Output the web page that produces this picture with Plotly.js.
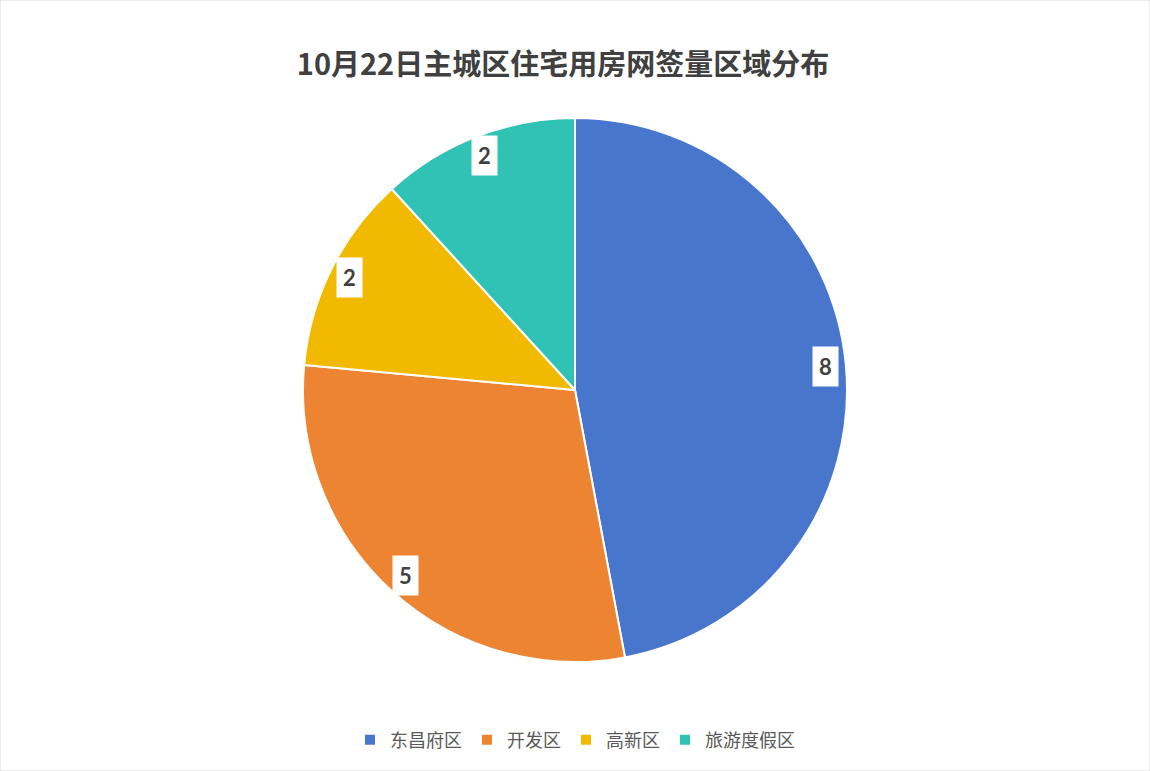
<!DOCTYPE html>
<html>
<head>
<meta charset="utf-8">
<script src="https://cdn.plot.ly/plotly-3.0.1.min.js"></script>
<style>
  html, body { margin: 0; padding: 0; background: #fff; }
  #chart { width: 1150px; height: 771px; }
</style>
</head>
<body>
<div id="chart"></div>
<script>
// 区域与网签量
const districts = ['东昌府区', '开发区', '高新区', '旅游度假区'];
const counts = [8, 5, 2, 2];
const sliceColors = ['#4876CD', '#ED8432', '#F1BA00', '#31C2B6'];

const W = 1150, H = 771;
const margin = { l: 0, r: 0, t: 118, b: 109 };
const plotW = W - margin.l - margin.r;
const plotH = H - margin.t - margin.b;
const radius = Math.min(plotW, plotH) / 2;

// 数据标签：放在扇区中线靠外侧，白底
const total = counts.reduce((a, b) => a + b, 0);
let cum = 0;
const labelAnnotations = counts.map(v => {
    const mid = (cum + v / 2) / total * 2 * Math.PI;
    cum += v;
    return {
        xref: 'paper', yref: 'paper',
        x: 0.5 + 0.925 * radius * Math.sin(mid) / plotW,
        y: 0.5 + 0.925 * radius * Math.cos(mid) / plotH,
        xanchor: 'center', yanchor: 'middle',
        text: String(v),
        showarrow: false,
        bgcolor: '#ffffff',
        borderpad: 6,
        font: { family: 'Lato, "Noto Sans", sans-serif', size: 22, color: '#404040', weight: 'bold' }
    };
});

const data = [{
    type: 'pie',
    labels: districts,
    values: counts,
    sort: false,
    direction: 'clockwise',
    rotation: 0,
    textinfo: 'none',
    hoverinfo: 'label+value',
    marker: { colors: sliceColors, line: { color: '#ffffff', width: 2 } }
}];

const layout = {
    width: W,
    height: H,
    margin: margin,
    paper_bgcolor: '#ffffff',
    title: {
        text: '<b>10月22日主城区住宅用房网签量区域分布</b>',
        font: { family: '"Noto Sans CJK SC", sans-serif', size: 29, color: '#404040' },
        x: 563 / W, xref: 'paper', xanchor: 'center',
        y: 1 - 65 / H, yref: 'container', yanchor: 'middle'
    },
    showlegend: true,
    legend: {
        orientation: 'h',
        x: 0.5, xanchor: 'center',
        y: -78 / plotH, yanchor: 'middle',
        font: { family: '"Noto Sans CJK SC", sans-serif', size: 18, color: '#595959' },
        itemwidth: 30,
        traceorder: 'normal'
    },
    annotations: labelAnnotations,
    shapes: [{
        type: 'rect', xref: 'paper', yref: 'paper',
        x0: 0, x1: 1, y0: -margin.b / plotH, y1: 1 + margin.t / plotH,
        line: { color: '#d9d9d9', width: 1 }
    }]
};

Plotly.newPlot('chart', data, layout, { displayModeBar: false });
</script>
</body>
</html>
